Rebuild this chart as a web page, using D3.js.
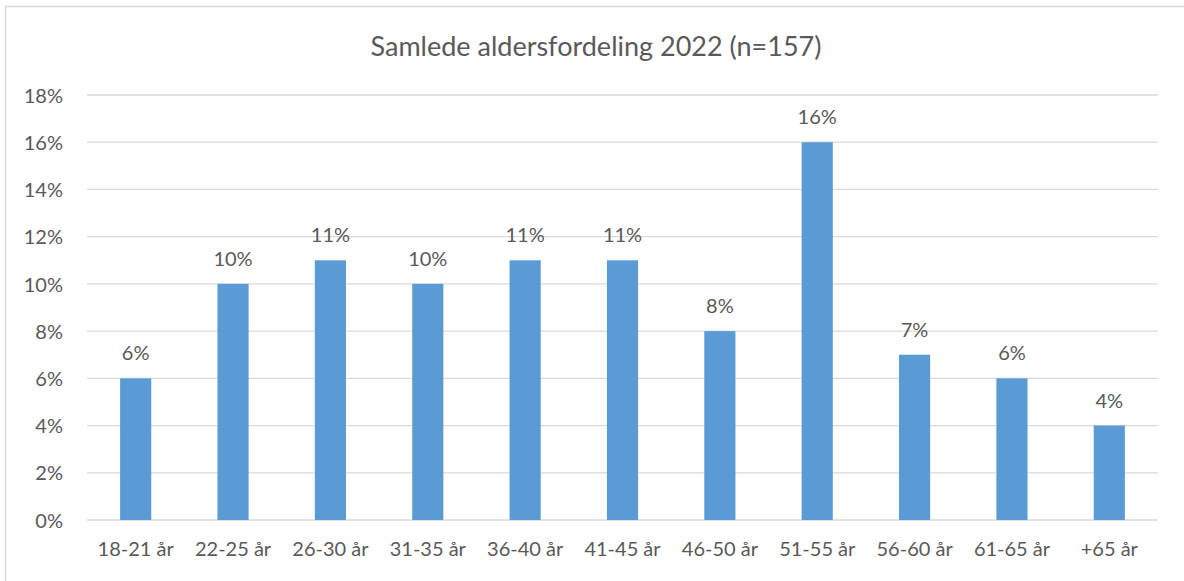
<!DOCTYPE html>
<html>
<head>
<meta charset="utf-8">
<script src="https://cdn.jsdelivr.net/npm/d3@7"></script>
<style>
  html, body { margin: 0; padding: 0; background: #fff; }
  svg { display: block; }
  text { font-family: Lato, "Open Sans", sans-serif; fill: #595959; }
</style>
</head>
<body>
<svg id="chart"></svg>
<script>
// aldersgrupper og andel (%)
var categories = ["18-21 år", "22-25 år", "26-30 år", "31-35 år", "36-40 år", "41-45 år",
                  "46-50 år", "51-55 år", "56-60 år", "61-65 år", "+65 år"];
var shares = [6, 10, 11, 10, 11, 11, 8, 16, 7, 6, 4];
var yTicks = [0, 2, 4, 6, 8, 10, 12, 14, 16, 18];
var title = "Samlede aldersfordeling 2022 (n=157)";

var width = 1184;
var height = 581;
var margin = { top: 95, right: 26, bottom: 61, left: 87 };

var svg = d3.select("#chart")
    .attr("width", width)
    .attr("height", height);

// ramme rundt diagrammet
svg.append("rect")
    .attr("x", 5.5)
    .attr("y", 6.5)
    .attr("width", 1200)
    .attr("height", 600)
    .attr("fill", "none")
    .attr("stroke", "#d9d9d9")
    .attr("stroke-width", 1.5);

var x = d3.scaleBand()
    .domain(categories)
    .range([margin.left, width - margin.right])
    .paddingInner(0.68)
    .paddingOuter(0.34);

var y = d3.scaleLinear()
    .domain([0, 18])
    .range([height - margin.bottom, margin.top]);

// rutenett
svg.append("g")
    .selectAll("line")
    .data(yTicks)
    .enter()
    .append("line")
        .attr("x1", margin.left)
        .attr("x2", width - margin.right)
        .attr("y1", d => y(d))
        .attr("y2", d => y(d))
        .attr("stroke", "#d9d9d9")
        .attr("stroke-width", 1.3);

// y-akse
var yAxis = svg.append("g")
    .attr("transform", "translate(" + (margin.left - 24) + ",0)")
    .call(d3.axisLeft(y).tickValues(yTicks).tickFormat(d => d + "%").tickSize(0).tickPadding(0));
yAxis.select(".domain").remove();
yAxis.selectAll("text")
    .style("font-size", "20px")
    .attr("dy", "0.36em");

// x-akse
var xAxis = svg.append("g")
    .attr("transform", "translate(0," + (height - margin.bottom) + ")")
    .call(d3.axisBottom(x).tickSize(0).tickPadding(22));
xAxis.select(".domain").remove();
xAxis.selectAll("text")
    .style("font-size", "20px");

// søyler
svg.append("g")
    .selectAll("rect")
    .data(shares)
    .enter()
    .append("rect")
        .attr("x", (d, i) => x(categories[i]))
        .attr("y", d => y(d))
        .attr("width", x.bandwidth())
        .attr("height", d => y(0) - y(d))
        .attr("fill", "#5b9bd5");

// dataetiketter
svg.append("g")
    .selectAll("text")
    .data(shares)
    .enter()
    .append("text")
        .attr("x", (d, i) => x(categories[i]) + x.bandwidth() / 2)
        .attr("y", d => y(d) - 18)
        .attr("text-anchor", "middle")
        .style("font-size", "20px")
        .text(d => d + "%");

// tittel
svg.append("text")
    .attr("x", 596)
    .attr("y", 56)
    .attr("text-anchor", "middle")
    .style("font-size", "27px")
    .text(title);
</script>
</body>
</html>
